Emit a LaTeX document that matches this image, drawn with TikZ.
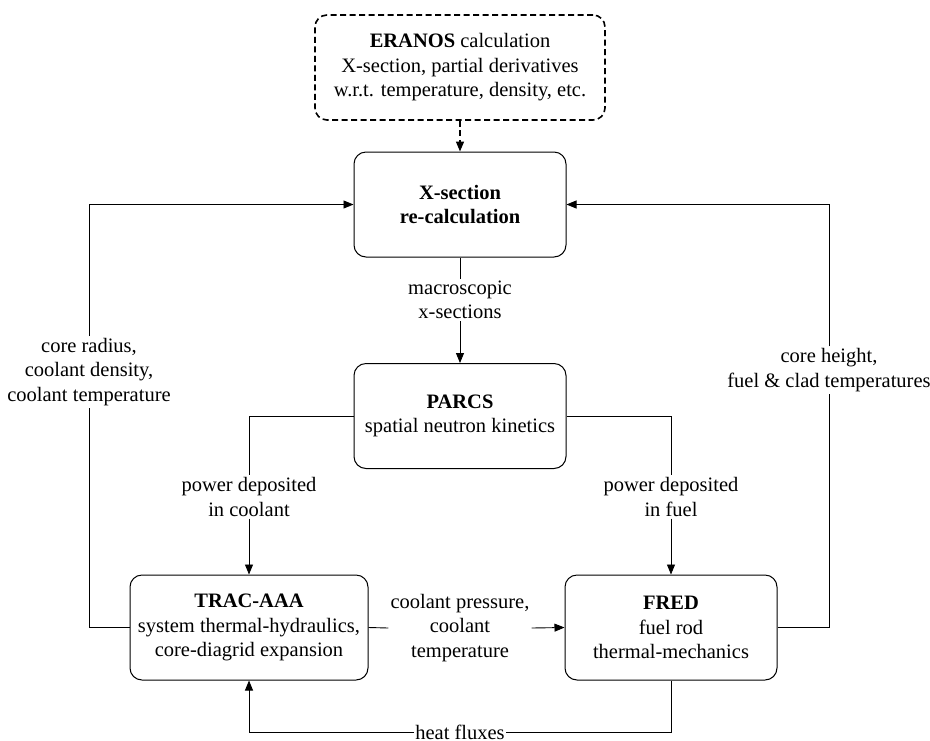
\documentclass[tikz,border=0pt]{standalone}
\usepackage{fontspec}
\setmainfont{Liberation Serif}
\usetikzlibrary{arrows.meta}
\begin{document}
\begin{tikzpicture}[x=1pt,y=-1pt,
  font=\fontsize{20.5}{24.5}\selectfont,
  box/.style={draw, rounded corners=12pt, line width=1pt, align=center, minimum height=105pt, minimum width=212pt, inner sep=0pt},
  dbox/.style={box, line width=1.6pt, dash pattern=on 6pt off 3.5pt},
  lbl/.style={align=center, inner sep=2pt},
  conn/.style={line width=0.9pt},
  arr/.style={conn, -{Triangle[length=10pt,width=8pt]}},
  darr/.style={arr, line width=1.4pt, dash pattern=on 6pt off 3.5pt},
]
\useasboundingbox (0,0) rectangle (930,740);

\node[dbox, minimum width=290pt] (eranos) at (460,67.5) {\textbf{ERANOS} calculation\\X-section, partial derivatives\\w.r.t. temperature, density, etc.};
\node[box] (xsec) at (460,204.5) {\textbf{X-section}\\\textbf{re-calculation}};
\node[box] (parcs) at (460,416) {\textbf{PARCS}\\spatial neutron kinetics};
\node[box, minimum width=238pt] (trac) at (249,627.5) {\textbf{TRAC-AAA}\\system thermal-hydraulics,\\core-diagrid expansion};
\node[box] (fred) at (671,627.5) {\textbf{FRED}\\fuel rod\\thermal-mechanics};

\node[lbl] (macro) at (460,300) {macroscopic\\x-sections};
\node[lbl] (pdc) at (249,497) {power deposited\\in coolant};
\node[lbl] (pdf) at (671,497) {power deposited\\in fuel};
\node[lbl] (cp) at (460,628) {coolant pressure,\\coolant\\temperature};
\node[lbl] (crl) at (89,372) {core radius,\\coolant density,\\coolant temperature};
\node[lbl] (chl) at (829,370) {core height,\\fuel \& clad temperatures};
\node[lbl, inner sep=1pt] (hf) at (460,732) {heat fluxes};

\draw[darr] (eranos) -- (xsec);
\draw[conn] (xsec) -- (macro);
\draw[arr] (macro) -- (parcs);
\draw[conn] (parcs.west) -| (pdc.north);
\draw[arr] (pdc) -- (trac);
\draw[conn] (parcs.east) -| (pdf.north);
\draw[arr] (pdf) -- (fred);
\draw[conn] (trac.east) -- (cp.west);
\draw[arr] (cp.east) -- (fred.west);
\draw[conn] (trac.west) -| (crl.south);
\draw[arr] (crl.north) |- (xsec.west);
\draw[conn] (fred.east) -| (chl.south);
\draw[arr] (chl.north) |- (xsec.east);
\draw[conn] (fred.south) |- (hf.east);
\draw[arr] (hf.west) -| (trac.south);
\end{tikzpicture}
\end{document}
